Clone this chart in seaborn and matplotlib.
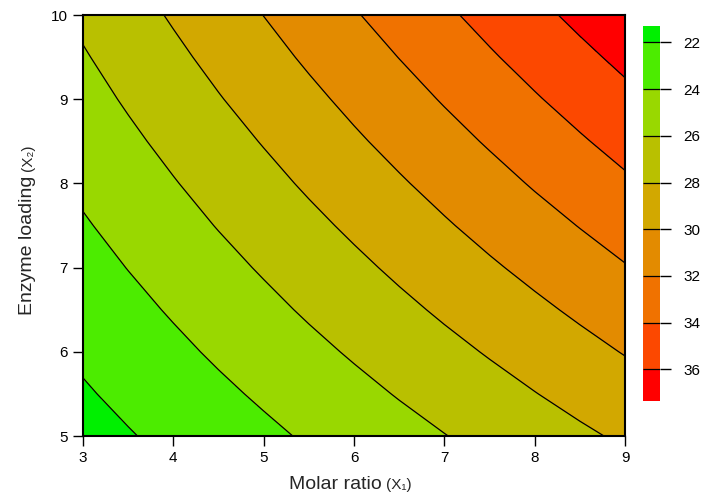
import numpy as np
import matplotlib
matplotlib.use("Agg")
import matplotlib.pyplot as plt
import seaborn as sns

# grid (step 0.5)
molar_ratio = [3, 3.5, 4, 4.5, 5, 5.5, 6, 6.5, 7, 7.5, 8, 8.5, 9]
enzyme_loading = [5, 5.5, 6, 6.5, 7, 7.5, 8, 8.5, 9, 9.5, 10]
# rows = enzyme loading, cols = molar ratio
response = [
    [21.30, 21.88, 22.46, 23.04, 23.62, 24.21, 24.79, 25.37, 25.95, 26.53, 27.11, 27.69, 28.27],
    [21.81, 22.42, 23.04, 23.65, 24.26, 24.88, 25.49, 26.11, 26.72, 27.34, 27.95, 28.57, 29.18],
    [22.31, 22.96, 23.61, 24.26, 24.90, 25.55, 26.20, 26.85, 27.50, 28.14, 28.79, 29.44, 30.09],
    [22.82, 23.50, 24.18, 24.86, 25.54, 26.23, 26.91, 27.59, 28.27, 28.95, 29.63, 30.31, 31.00],
    [23.32, 24.04, 24.75, 25.47, 26.18, 26.90, 27.61, 28.33, 29.04, 29.76, 30.47, 31.19, 31.90],
    [23.83, 24.58, 25.33, 26.08, 26.82, 27.57, 28.32, 29.07, 29.82, 30.57, 31.32, 32.06, 32.81],
    [24.34, 25.12, 25.90, 26.68, 27.46, 28.25, 29.03, 29.81, 30.59, 31.37, 32.16, 32.94, 33.72],
    [24.84, 25.66, 26.47, 27.29, 28.10, 28.92, 29.74, 30.55, 31.37, 32.18, 33.00, 33.81, 34.63],
    [25.35, 26.20, 27.05, 27.90, 28.74, 29.59, 30.44, 31.29, 32.14, 32.99, 33.84, 34.69, 35.54],
    [25.85, 26.74, 27.62, 28.50, 29.38, 30.27, 31.15, 32.03, 32.91, 33.80, 34.68, 35.56, 36.44],
    [26.36, 27.28, 28.19, 29.11, 30.02, 30.94, 31.86, 32.77, 33.69, 34.60, 35.52, 36.44, 37.35],
]
x_ticks = [3, 4, 5, 6, 7, 8, 9]
y_ticks = [5, 6, 7, 8, 9, 10]
contour_levels = [22, 24, 26, 28, 30, 32, 34, 36]
band_colors = ["#00f000", "#4cec00", "#99d800", "#b9c000", "#d2a800",
               "#e38b00", "#f07200", "#fc4800", "#ff0000"]

sns.set_style("ticks")
plt.rcParams["font.family"] = ["Liberation Sans", "DejaVu Sans"]

fig = plt.figure(figsize=(7.01, 4.94), dpi=100)
ax = fig.add_axes([0.1184, 0.1174, 0.7732, 0.8522])
cax = fig.add_axes([0.9173, 0.1883, 0.0243, 0.7591])

X, Y = np.meshgrid(molar_ratio, enzyme_loading)
Z = np.array(response)
levels = [Z.min()] + contour_levels + [Z.max()]

cf = ax.contourf(X, Y, Z, levels=levels, colors=sns.color_palette(band_colors))
cl = ax.contour(X, Y, Z, levels=contour_levels, colors="black", linewidths=0.9)

ax.set_xlim(3, 9)
ax.set_ylim(5, 10)
ax.set_xticks(x_ticks)
ax.set_yticks(y_ticks)
ax.tick_params(direction="out", length=7, width=1, labelsize=11, pad=4, colors="black")
for s in ax.spines.values():
    s.set_color("black")
    s.set_linewidth(1.5)

# colorbar, 22 on top
cbar = fig.colorbar(cf, cax=cax, ticks=contour_levels, spacing="proportional")
cbar.outline.set_visible(False)
cbar.add_lines(cl)
cax.invert_yaxis()
cax.tick_params(direction="out", length=8, width=1, labelsize=11, pad=9, colors="black")

# axis labels, the (X) part a bit smaller
desc = 0.21 * 14  # descent of the 14pt text, points
t1 = fig.text(289 / 701, 5 / 494, "Molar ratio", fontsize=14, ha="left", va="baseline")
ax.annotate("(X\u2081)", xy=(1, 0), xycoords=t1, xytext=(3, desc), textcoords="offset points",
            ha="left", va="baseline", fontsize=11)
t2 = fig.text(32 / 701, (494 - 315) / 494, "Enzyme loading", fontsize=14, rotation=90,
              rotation_mode="anchor", ha="left", va="baseline")
ax.annotate("(X\u2082)", xy=(1, 1), xycoords=t2, xytext=(-desc, 3), textcoords="offset points",
            ha="left", va="baseline", fontsize=11, rotation=90, rotation_mode="anchor")

plt.savefig("out.png", dpi=100)
plt.close()
